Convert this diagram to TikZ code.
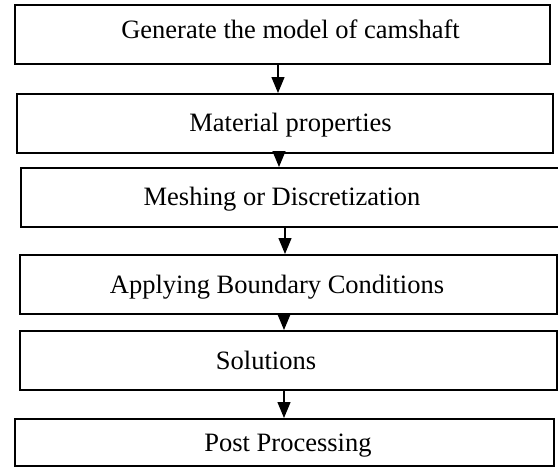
\documentclass[tikz,border=0pt]{standalone}
\usepackage{fontspec}
\setmainfont{Liberation Serif}
\usetikzlibrary{arrows.meta}
\begin{document}
\begin{tikzpicture}[x=1pt,y=-1pt,
  stepbox/.style={draw=black,line width=2pt,rectangle,inner sep=0pt},
  steptext/.style={anchor=base,inner sep=0pt,font=\fontsize{26.5}{30}\selectfont},
  flow/.style={line width=1.3pt,-{Triangle[width=13pt,length=16pt]}}]
\useasboundingbox (0,0) rectangle (558,467);
\fill[white] (0,0) rectangle (558,467);
% boxes
\node[stepbox,minimum width=535pt,minimum height=59pt] (b1) at (282.5,34.5) {};
\node[stepbox,minimum width=536pt,minimum height=59pt] (b2) at (285,123.5) {};
\node[stepbox,minimum width=540pt,minimum height=59pt] (b3) at (291,197.5) {};
\node[stepbox,minimum width=537pt,minimum height=59pt] (b4) at (288.5,284.5) {};
\node[stepbox,minimum width=537pt,minimum height=59pt] (b5) at (288.5,360.5) {};
\node[stepbox,minimum width=539pt,minimum height=47pt] (b6) at (284.5,442.5) {};
% texts
\node[steptext] (t1) at (290.5,38.5) {Generate the model of camshaft};
\node[steptext] (t2) at (290.5,131.5) {Material properties};
\node[steptext] (t3) at (282,205.5) {Meshing or Discretization};
\node[steptext] (t4) at (277,293) {Applying Boundary Conditions};
\node[steptext] (t5) at (266,369.5) {Solutions};
\node[steptext] (t6) at (288,451.5) {Post Processing};
% arrows
\draw[flow] (b1.south -| 278,0) -- (b2.north -| 278,0);
\draw[flow] (b2.south -| 279,0) -- (b3.north -| 279,0);
\draw[flow] (b3.south -| 285,0) -- (b4.north -| 285,0);
\draw[flow] (b4.south -| 284,0) -- (b5.north -| 284,0);
\draw[flow] (b5.south -| 284,0) -- (b6.north -| 284,0);
\end{tikzpicture}
\end{document}
